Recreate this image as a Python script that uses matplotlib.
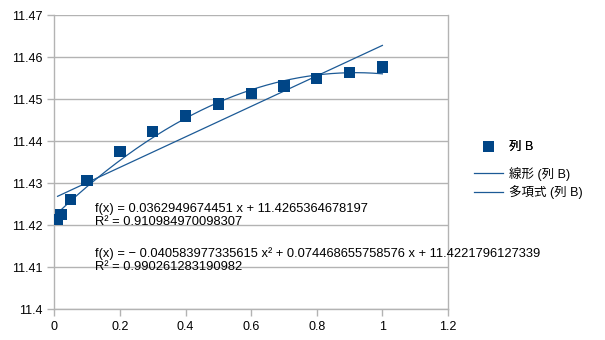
import numpy as np
import matplotlib
matplotlib.use("Agg")
import matplotlib.pyplot as plt
from matplotlib.ticker import MultipleLocator, FuncFormatter

plt.rcParams['font.family'] = ['Liberation Sans', 'Noto Sans CJK JP', 'DejaVu Sans']

# data
x_vals = [0.01, 0.02, 0.05, 0.1, 0.2, 0.3, 0.4, 0.5, 0.6, 0.7, 0.8, 0.9, 1.0]
y_vals = [11.4213, 11.4225, 11.4262, 11.4307, 11.4375, 11.4423, 11.4460,
          11.4489, 11.4513, 11.4532, 11.4549, 11.4563, 11.4577]
lin_coef = [0.0362949674451, 11.4265364678197]
poly_coef = [-0.040583977335615, 0.074468655758576, 11.4221796127339]
lin_r2 = "0.910984970098307"
poly_r2 = "0.990261283190982"
series_name = "列 B"
linear_label = "線形 (列 B)"
poly_label = "多項式 (列 B)"
x_ticks = [0, 0.2, 0.4, 0.6, 0.8, 1, 1.2]

blue = "#004586"
line_blue = "#1c5a96"
grey = "#b3b3b3"

fig = plt.figure(figsize=(6.05, 3.4), dpi=100)
ax = fig.add_axes([54.3/605, 1-309.3/340, (448-54.3)/605, (309.3-15.3)/340])

xs = np.linspace(min(x_vals), max(x_vals), 200)
sc = ax.scatter(x_vals, y_vals, marker='s', s=66, color=blue, zorder=3, label=series_name,
                edgecolors='none')
l1, = ax.plot(xs, np.polyval(lin_coef, xs), color=line_blue, lw=0.9, zorder=2, label=linear_label)
l2, = ax.plot(xs, np.polyval(poly_coef, xs), color=line_blue, lw=0.9, zorder=2, label=poly_label)

ax.set_xlim(0, 1.2)
ax.set_ylim(11.4, 11.47)
ax.set_xticks(x_ticks)
ax.xaxis.set_major_formatter(FuncFormatter(lambda v, p: f"{v:g}"))
ax.yaxis.set_major_locator(MultipleLocator(0.01))
ax.yaxis.set_major_formatter(FuncFormatter(lambda v, p: f"{round(v, 2):g}"))
ax.grid(axis='y', color=grey, lw=1)
ax.set_axisbelow(True)
for s in ['left', 'bottom', 'right']:
    ax.spines[s].set_color(grey)
    ax.spines[s].set_linewidth(1)
ax.spines['top'].set_visible(False)
ax.tick_params(colors=grey, labelcolor='black', labelsize=9, length=5, width=1)

fs = 9.25
ax.text(0.124, 11.4239, f"f(x) = {lin_coef[0]} x + {lin_coef[1]}", fontsize=fs,
        va='center', ha='left')
ax.text(0.124, 11.4207, f"R² = {lin_r2}", fontsize=fs, va='center', ha='left')
ax.text(0.124, 11.4133,
        f"f(x) = − {abs(poly_coef[0])} x² + {poly_coef[1]} x + {poly_coef[2]}",
        fontsize=fs, va='center', ha='left')
ax.text(0.124, 11.4100, f"R² = {poly_r2}", fontsize=fs, va='center', ha='left')

leg1 = fig.legend(handles=[sc], loc='center left', bbox_to_anchor=(474/605, 1-147/340),
                  frameon=False, fontsize=9, handlelength=2.3, handletextpad=0.5,
                  borderpad=0, borderaxespad=0)
fig.add_artist(leg1)
fig.legend(handles=[l1, l2], loc='center left', bbox_to_anchor=(474/605, 1-183/340),
           frameon=False, fontsize=9, handlelength=2.3, handletextpad=0.5,
           labelspacing=0.35, borderpad=0, borderaxespad=0)

fig.savefig("out.png", dpi=100)
